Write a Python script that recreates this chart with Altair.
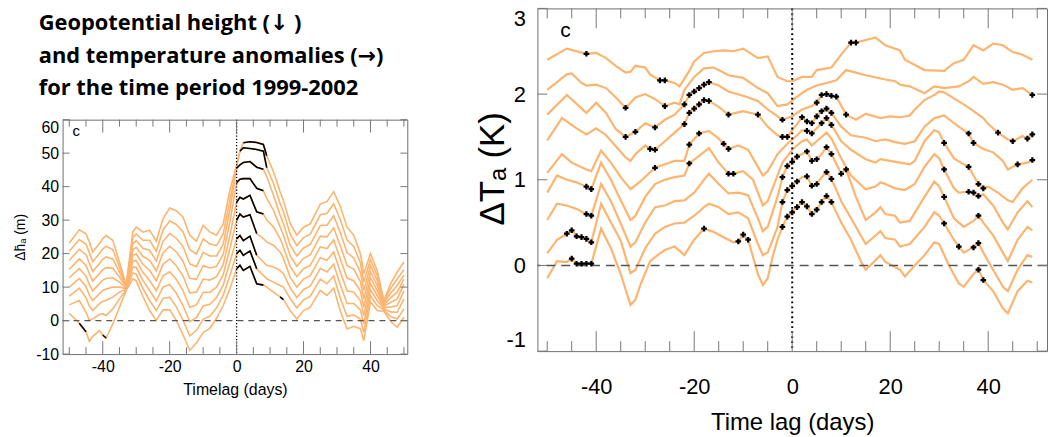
import altair as alt
import pandas as pd

ORANGE = "#FDB46F"
TICK = "#777777"
FONT = "Liberation Sans"

# ---------------- left panel: geopotential height anomaly (m) ----------------
LEFT_DAYS = [-50, -47, -45, -44, -43, -41, -40, -39, -37, -35, -33, -31, -30, -28, -26,
             -24, -22, -20, -18, -16, -14, -12, -10, -8, -6, -4, -2, 0, 1, 2, 4, 6, 8, 9,
             11, 13, 14, 16, 18, 20, 22, 25, 27, 29, 31, 33, 35, 37, 38, 40, 42, 44, 46, 48, 50]
H1 = [23.2, 27.1, 25.9, 23.5, 20.5, 23.0, 24.5, 25.4, 24.0, 17.5, 10.6, 26.5, 27.9, 26.4, 27.0,
      23.7, 30.4, 33.6, 32.8, 30.9, 25.5, 23.7, 28.4, 26.5, 25.5, 28.9, 39.0, 46.5, 50.5, 53.1,
      53.4, 53.2, 52.6, 49.2, 44.5, 38.5, 35.8, 29.0, 25.5, 27.9, 28.9, 34.8, 35.5, 38.5, 34.0,
      27.9, 25.5, 20.0, 14.0, 20.0, 15.0, 6.0, 11.0, 14.5, 17.5]
H2 = [20.7, 24.2, 22.8, 20.3, 17.6, 20.0, 21.4, 22.2, 21.2, 16.0, 10.4, 24.8, 25.9, 24.0, 24.0,
      20.7, 27.0, 29.8, 28.7, 26.5, 21.2, 19.9, 24.4, 22.9, 22.4, 25.9, 36.0, 46.0, 50.6, 51.6,
      51.4, 51.1, 50.6, 45.7, 41.0, 35.0, 32.5, 25.8, 22.4, 24.8, 25.8, 31.6, 32.0, 34.9, 30.1,
      24.1, 22.1, 17.2, 11.5, 18.2, 13.5, 5.6, 9.6, 12.5, 15.2]
H3 = [18.0, 21.3, 19.7, 17.2, 14.7, 17.0, 18.3, 19.0, 18.4, 14.5, 10.2, 23.0, 23.9, 21.6, 21.0,
      17.8, 23.6, 26.0, 24.6, 22.1, 16.9, 16.1, 20.4, 19.3, 19.3, 22.8, 33.0, 45.5, 46.5, 47.2,
      47.5, 45.8, 45.2, 43.0, 37.5, 31.5, 29.0, 22.6, 19.3, 21.7, 22.7, 28.4, 28.5, 31.3, 26.2,
      20.3, 18.7, 14.4, 9.0, 16.4, 12.0, 5.2, 8.2, 10.5, 13.6]
H4 = [15.3, 18.4, 16.5, 14.0, 11.8, 14.0, 15.2, 15.8, 15.6, 13.0, 10.0, 21.2, 21.9, 19.2, 18.0,
      14.8, 20.2, 22.2, 20.5, 17.7, 12.6, 12.3, 16.4, 15.7, 16.2, 19.8, 29.5, 41.2, 42.2, 42.4,
      42.4, 39.5, 38.8, 36.5, 33.0, 28.0, 25.5, 19.4, 16.2, 18.6, 19.6, 25.2, 25.0, 27.7, 22.3,
      16.5, 15.3, 11.6, 6.5, 14.6, 10.5, 4.8, 6.8, 8.5, 12.4]
H5 = [12.8, 15.5, 13.3, 10.8, 8.9, 11.0, 12.1, 12.6, 12.8, 11.5, 9.8, 19.5, 19.9, 16.8, 15.0,
      11.9, 16.8, 18.4, 16.4, 13.3, 8.3, 8.5, 12.4, 12.1, 13.1, 16.7, 25.5, 35.3, 36.8, 36.3,
      37.4, 32.5, 31.8, 30.0, 28.0, 24.5, 22.0, 16.2, 13.1, 15.5, 16.5, 22.0, 21.5, 24.1, 18.4,
      12.7, 11.9, 8.8, 4.0, 12.8, 9.0, 4.4, 5.4, 6.5, 10.9]
H6 = [10.0, 12.6, 10.1, 7.6, 6.0, 8.0, 9.0, 9.4, 10.0, 10.0, 9.6, 17.8, 17.9, 14.4, 12.0,
      8.9, 13.4, 14.6, 12.3, 8.9, 4.0, 4.7, 8.4, 8.5, 10.0, 13.7, 21.5, 29.9, 31.8, 30.9,
      31.6, 26.0, 24.5, 23.5, 22.5, 20.5, 18.5, 13.0, 10.0, 12.4, 13.4, 18.8, 18.0, 20.5, 14.5,
      8.9, 8.5, 6.0, 1.5, 11.0, 7.5, 4.0, 4.0, 4.5, 8.9]
H7 = [7.3, 9.7, 6.8, 4.3, 3.0, 5.0, 5.8, 6.0, 7.0, 8.5, 9.4, 16.0, 15.9, 12.0, 9.0,
      5.9, 10.0, 10.8, 8.2, 4.5, -0.3, 0.9, 4.4, 4.9, 6.9, 10.6, 17.5, 24.4, 25.4, 23.9,
      25.2, 19.5, 17.5, 16.5, 16.0, 15.0, 14.0, 9.8, 6.9, 9.3, 10.3, 15.6, 14.5, 16.9, 10.6,
      5.1, 5.1, 3.2, -1.0, 9.2, 6.0, 3.6, 2.6, 2.5, 6.5]
H8 = [4.7, 6.0, 2.5, 0.0, 0.5, 1.8, 2.0, 1.5, 3.5, 6.5, 9.2, 14.2, 13.9, 9.6, 6.0,
      3.0, 6.6, 7.0, 4.1, 0.1, -4.6, -2.9, 0.4, 1.3, 3.8, 7.6, 13.5, 20.0, 21.0, 19.5,
      20.8, 15.5, 13.5, 12.5, 11.5, 10.5, 10.0, 6.6, 3.8, 6.2, 7.2, 12.4, 11.0, 13.3, 6.7,
      1.3, 1.7, 0.4, -3.5, 7.4, 4.5, 3.2, 1.2, 0.5, 3.5]
H9 = [2.2, -0.8, -3.3, -6.2, -4.7, -3.0, -4.3, -5.2, -1.0, 4.0, 9.0, 12.5, 11.9, 7.2, 3.0,
      0.0, 3.2, 3.2, 0.0, -4.3, -8.9, -6.7, -3.6, -2.3, 0.7, 4.5, 9.5, 15.5, 16.5, 15.0,
      16.2, 11.0, 10.6, 10.0, 8.5, 7.1, 6.3, 3.0, 0.5, 3.0, 4.0, 9.0, 7.5, 9.7, 2.8,
      -2.5, -1.7, -2.4, -6.0, 5.6, 3.0, 2.8, -0.2, -2.0, 1.0]
LEFT_SERIES = [H1, H2, H3, H4, H5, H6, H7, H8, H9]
# day ranges drawn in black (significant parts)
LEFT_BLACK = [[(2, 9)], [(1, 9)], [(0, 8)], [(0, 8)], [(0, 8)], [(0, 6)], [(0, 6)], [(0, 6)],
              [(-47, -45), (-40, -39), (0, 8), (13, 14)]]

# ---------------- right panel: temperature anomaly (K) ----------------
T1 = [(-50, 2.40), (-46, 2.53), (-42, 2.47), (-40, 2.48), (-38, 2.42), (-36, 2.33), (-34, 2.25),
      (-33, 2.26), (-32, 2.33), (-30, 2.31), (-29, 2.23), (-27, 2.16), (-26, 2.16), (-24, 2.13),
      (-23, 2.09), (-21, 2.27), (-20, 2.38), (-18, 2.48), (-16, 2.50), (-14, 2.51), (-12, 2.50),
      (-10, 2.53), (-7, 2.42), (-5, 2.44), (-3, 2.20), (-1, 2.15), (0, 2.15), (2, 2.20), (4, 2.20),
      (5, 2.28), (8, 2.31), (10, 2.46), (12, 2.60), (13, 2.60), (17, 2.66), (19, 2.57), (22, 2.51),
      (23, 2.40), (27, 2.28), (31, 2.27), (33, 2.36), (35, 2.40), (37, 2.57), (39, 2.51), (41, 2.59),
      (43, 2.57), (45, 2.49), (47, 2.46), (49, 2.40)]
T2 = [(-50, 2.05), (-46, 2.23), (-45, 2.24), (-43, 2.13), (-42, 2.10), (-40, 2.11), (-38, 2.07),
      (-36, 1.96), (-34, 1.84), (-33, 1.90), (-32, 1.96), (-30, 2.00), (-28, 1.94), (-26, 1.86),
      (-24, 1.90), (-23, 1.88), (-22, 2.05), (-20, 2.20), (-18, 2.30), (-16, 2.31), (-13, 2.22),
      (-10, 2.19), (-7, 2.07), (-5, 2.01), (-3, 1.86), (-1, 1.88), (1, 1.97), (3, 2.05), (5, 2.10),
      (7, 2.13), (9, 2.16), (11, 2.28), (13, 2.25), (15, 2.22), (19, 2.17), (21, 2.15), (22, 2.11),
      (24, 2.09), (27, 2.01), (29, 2.09), (31, 2.07), (34, 2.09), (36, 2.15), (37, 2.20), (39, 2.12),
      (41, 2.14), (43, 2.11), (45, 2.05), (47, 2.07), (49, 1.99)]
T3 = [(-50, 1.76), (-46, 1.99), (-42, 1.78), (-40, 1.90), (-38, 1.78), (-36, 1.59), (-34, 1.50),
      (-32, 1.56), (-30, 1.66), (-28, 1.61), (-26, 1.70), (-24, 1.76), (-22, 1.88), (-21, 1.99),
      (-20, 2.03), (-19, 2.07), (-18, 2.11), (-17, 2.14), (-15, 2.10), (-13, 2.03), (-10, 1.98),
      (-7, 1.92), (-5, 1.82), (-2, 1.70), (0, 1.74), (2, 1.82), (4, 1.86), (5, 1.90), (6, 1.99),
      (7, 2.00), (8, 1.98), (9, 1.97), (11, 1.76), (13, 1.70), (15, 1.77), (18, 1.72), (20, 1.74),
      (22, 1.73), (24, 1.75), (25, 1.82), (27, 1.93), (29, 1.99), (30, 2.03), (31, 2.02), (33, 1.95),
      (35, 1.88), (37, 1.80), (39, 1.72), (40, 1.65), (42, 1.55), (44, 1.47), (45, 1.45), (47, 1.51),
      (48, 1.48), (49, 1.53)]
T4 = [(-50, 1.46), (-47, 1.72), (-44, 1.60), (-42, 1.53), (-40, 1.60), (-38, 1.52), (-36, 1.39),
      (-34, 1.26), (-33, 1.22), (-32, 1.30), (-30, 1.40), (-29, 1.36), (-28, 1.35), (-26, 1.45),
      (-24, 1.55), (-22, 1.65), (-21, 1.78), (-20, 1.83), (-19, 1.88), (-18, 1.93), (-17, 1.92),
      (-15, 1.85), (-13, 1.76), (-10, 1.80), (-7, 1.76), (-5, 1.62), (-3, 1.52), (-2, 1.50),
      (-1, 1.50), (0, 1.58), (1, 1.65), (2, 1.73), (3, 1.68), (4, 1.66), (5, 1.74), (6, 1.80),
      (7, 1.83), (8, 1.78), (10, 1.62), (12, 1.52), (15, 1.49), (17, 1.45), (19, 1.47), (21, 1.44),
      (23, 1.42), (25, 1.45), (27, 1.62), (29, 1.72), (31, 1.75), (33, 1.66), (35, 1.58), (36, 1.54),
      (37, 1.43), (39, 1.36), (41, 1.32), (43, 1.22), (44, 1.12), (46, 1.18), (48, 1.20), (49, 1.23)]
T5 = [(-50, 1.08), (-47, 1.30), (-45, 1.20), (-42, 1.12), (-41, 1.10), (-39, 1.34), (-37, 1.20),
      (-35, 1.03), (-33, 0.89), (-31, 0.98), (-28, 1.14), (-26, 1.18), (-24, 1.22), (-22, 1.22),
      (-21, 1.41), (-19, 1.54), (-17, 1.57), (-15, 1.48), (-14, 1.42), (-13, 1.36), (-11, 1.40),
      (-9, 1.35), (-7, 1.15), (-6, 1.05), (-5, 1.10), (-3, 1.30), (-1, 1.42), (1, 1.52), (2, 1.58),
      (3, 1.57), (4, 1.54), (5, 1.60), (6, 1.66), (7, 1.72), (8, 1.64), (10, 1.45), (12, 1.35),
      (15, 1.24), (17, 1.20), (18, 1.24), (20, 1.22), (22, 1.20), (24, 1.18), (25, 1.22), (27, 1.45),
      (29, 1.58), (30, 1.55), (31, 1.43), (33, 1.25), (35, 1.18), (36, 1.15), (37, 1.05), (38, 0.95),
      (39, 0.90), (40, 0.92), (42, 0.85), (44, 0.76), (45, 0.74), (47, 0.90), (49, 1.00)]
T6 = [(-50, 0.85), (-48, 1.05), (-46, 1.00), (-44, 0.97), (-42, 0.92), (-41, 0.89), (-39, 1.20),
      (-37, 1.00), (-35, 0.76), (-33, 0.53), (-32, 0.58), (-30, 0.80), (-28, 0.95), (-26, 1.00),
      (-24, 1.03), (-22, 1.05), (-21, 1.19), (-19, 1.28), (-17, 1.37), (-15, 1.20), (-13, 1.07),
      (-12, 1.07), (-10, 1.10), (-8, 1.00), (-6, 0.70), (-5, 0.75), (-3, 1.05), (-2, 1.20), (0, 1.35),
      (2, 1.45), (3, 1.47), (4, 1.40), (5, 1.45), (7, 1.55), (8, 1.48), (10, 1.25), (12, 1.05),
      (15, 0.89), (17, 0.92), (18, 0.97), (19, 0.95), (21, 0.90), (23, 0.88), (25, 0.95), (27, 1.15),
      (29, 1.30), (30, 1.25), (31, 1.12), (33, 0.90), (34, 0.85), (36, 0.86), (37, 0.85), (38, 0.81),
      (39, 0.83), (41, 0.70), (43, 0.50), (44, 0.42), (46, 0.62), (48, 0.75), (49, 0.68)]
T7 = [(-50, 0.53), (-48, 0.72), (-46, 0.70), (-44, 0.66), (-42, 0.60), (-41, 0.58), (-39, 0.95),
      (-37, 0.75), (-35, 0.49), (-33, 0.22), (-32, 0.27), (-30, 0.50), (-28, 0.68), (-26, 0.70),
      (-24, 0.75), (-22, 0.76), (-20, 0.85), (-18, 1.00), (-17, 1.07), (-15, 0.95), (-13, 0.84),
      (-11, 0.85), (-9, 0.82), (-7, 0.55), (-6, 0.40), (-5, 0.45), (-3, 0.80), (-2, 1.03), (-1, 1.16),
      (0, 1.21), (1, 1.27), (2, 1.30), (3, 1.33), (4, 1.22), (5, 1.24), (6, 1.30), (7, 1.38), (8, 1.30),
      (10, 1.07), (11, 1.12), (13, 0.80), (15, 0.53), (17, 0.62), (18, 0.68), (19, 0.60), (21, 0.58),
      (22, 0.50), (24, 0.52), (27, 0.80), (29, 0.98), (30, 0.92), (31, 0.80), (33, 0.55), (35, 0.45),
      (37, 0.52), (38, 0.58), (39, 0.50), (41, 0.35), (43, 0.15), (44, 0.05), (46, 0.30), (48, 0.45),
      (49, 0.41)]
T8 = [(-50, 0.14), (-48, 0.30), (-46, 0.37), (-45, 0.41), (-44, 0.34), (-43, 0.33), (-42, 0.31),
      (-41, 0.27), (-39, 0.72), (-37, 0.50), (-35, 0.29), (-33, -0.09), (-32, -0.05), (-30, 0.20),
      (-28, 0.37), (-26, 0.45), (-24, 0.49), (-22, 0.50), (-20, 0.58), (-18, 0.68), (-17, 0.72),
      (-15, 0.68), (-13, 0.60), (-11, 0.62), (-9, 0.55), (-7, 0.25), (-6, 0.12), (-5, 0.15),
      (-3, 0.45), (-2, 0.74), (-1, 0.88), (0, 0.93), (1, 0.98), (2, 1.03), (3, 1.04), (4, 0.93),
      (5, 0.95), (6, 1.03), (7, 1.09), (8, 1.01), (10, 0.75), (12, 0.55), (14, 0.35), (15, 0.25),
      (17, 0.35), (18, 0.40), (19, 0.32), (21, 0.30), (22, 0.22), (24, 0.25), (27, 0.45), (29, 0.62),
      (30, 0.58), (31, 0.49), (33, 0.30), (34, 0.22), (35, 0.15), (37, 0.21), (38, 0.26), (39, 0.15),
      (41, -0.05), (43, -0.25), (44, -0.30), (46, -0.05), (48, 0.12), (49, 0.10)]
T9 = [(-50, -0.15), (-48, 0.05), (-46, 0.04), (-45, 0.08), (-44, 0.02), (-43, 0.02), (-42, 0.02),
      (-41, 0.02), (-39, 0.43), (-37, 0.20), (-35, -0.10), (-33, -0.46), (-32, -0.40), (-31, -0.23),
      (-29, 0.05), (-27, 0.14), (-26, 0.18), (-24, 0.22), (-22, 0.12), (-20, 0.30), (-18, 0.43),
      (-16, 0.39), (-14, 0.33), (-12, 0.27), (-11, 0.28), (-10, 0.36), (-9, 0.30), (-8, 0.10),
      (-7, -0.10), (-6, -0.23), (-5, -0.15), (-4, 0.10), (-3, 0.30), (-2, 0.45), (-1, 0.57), (0, 0.62),
      (1, 0.68), (2, 0.74), (3, 0.69), (4, 0.60), (5, 0.65), (6, 0.74), (7, 0.81), (8, 0.74),
      (10, 0.50), (12, 0.30), (14, 0.05), (15, -0.05), (17, 0.06), (18, 0.12), (19, 0.04), (21, -0.02),
      (22, -0.05), (23, -0.13), (25, 0.00), (27, 0.12), (29, 0.27), (30, 0.25), (32, 0.00), (34, -0.21),
      (35, -0.25), (37, -0.10), (38, -0.05), (39, -0.17), (41, -0.30), (43, -0.50), (44, -0.56),
      (46, -0.30), (48, -0.18), (49, -0.20)]
RIGHT_SERIES = [T1, T2, T3, T4, T5, T6, T7, T8, T9]
# days marked with black symbols on each curve
RIGHT_MARKS = [
    [-42, -27, -26, 12, 13],
    [-34, -26, 49],
    [-34, -32, -28, -22, -21, -20, -19, -18, -17, -2, 5, 6, 7, 8, 9, 11, 42, 45, 48, 49],
    [-29, -28, -22, -21, -20, -19, -18, -17, -13, -7, -2, -1, 2, 3, 4, 5, 6, 7, 8, 36, 37, 46, 49],
    [-28, -21, -19, -14, -13, 3, 4, 6, 7, 8, 31, 36, 38, 39],
    [-42, -41, -21, -13, -12, 31, 36, 37, 38],
    [-42, -41, -2, -1, 0, 1, 3, 4, 5, 7, 8, 10, 11, 31, 38],
    [-46, -45, -44, -43, -42, -41, -2, -1, 0, 1, 3, 4, 5, 7, 8, 31, 34, 37, 38],
    [-45, -44, -43, -42, -41, -18, -11, -10, -9, -2, -1, 0, 1, 2, 3, 4, 5, 6, 7, 8, 38, 39],
]

X_MAJOR = [-40, -20, 0, 20, 40]
X_MINOR = [-50, -45, -35, -30, -25, -15, -10, -5, 5, 10, 15, 25, 30, 35, 45, 50]
LEFT_Y_TICKS = [-10, 0, 10, 20, 30, 40, 50, 60]
RIGHT_Y_TICKS = [-1, 0, 1, 2, 3]

TITLE_LINES = ["Geopotential height (\u2193 )", "and temperature anomalies (\u2192)",
               "for the time period 1999-2002"]

# ---------------- build tables ----------------
left_rows, left_black_rows = [], []
for i, vals in enumerate(LEFT_SERIES):
    for d, v in zip(LEFT_DAYS, vals):
        left_rows.append({"series": f"H{i+1}", "day": d, "val": v})
    for j, (lo, hi) in enumerate(LEFT_BLACK[i]):
        for d, v in zip(LEFT_DAYS, vals):
            if lo <= d <= hi:
                left_black_rows.append({"seg": f"H{i+1}_{j}", "day": d, "val": v})
left_df = pd.DataFrame(left_rows)
left_black_df = pd.DataFrame(left_black_rows)

right_rows, mark_rows = [], []
for i, pts in enumerate(RIGHT_SERIES):
    lookup = dict(pts)
    for d, v in pts:
        right_rows.append({"series": f"T{i+1}", "day": d, "val": v})
    for d in RIGHT_MARKS[i]:
        if d in lookup:
            mark_rows.append({"series": f"T{i+1}", "day": d, "val": lookup[d]})
right_df = pd.DataFrame(right_rows)
mark_df = pd.DataFrame(mark_rows)


def frame_ticks(X, Y, W, H, xmaj_len, xmin_len, y_len, yvals):
    layers = []
    for vals, ln in ((X_MAJOR, xmaj_len), (X_MINOR, xmin_len)):
        df = pd.DataFrame({"day": vals})
        base = alt.Chart(df).mark_rule(color=TICK, strokeWidth=1)
        layers.append(base.encode(x=X, y=alt.value(0), y2=alt.value(ln)))
        layers.append(base.encode(x=X, y=alt.value(H), y2=alt.value(H - ln)))
    dfy = pd.DataFrame({"val": yvals})
    basey = alt.Chart(dfy).mark_rule(color=TICK, strokeWidth=1)
    layers.append(basey.encode(y=Y, x=alt.value(0), x2=alt.value(y_len)))
    layers.append(basey.encode(y=Y, x=alt.value(W), x2=alt.value(W - y_len)))
    return layers


PLAIN = "toString(datum.value)"

# ---------------- left chart ----------------
LW, LH = 347, 236
LX = alt.X("day:Q", scale=alt.Scale(domain=[-52, 51], nice=False, zero=False),
           axis=alt.Axis(values=X_MAJOR, title="Timelag (days)", labelFontSize=16,
                         titleFontSize=16, labelPadding=5, titlePadding=7, labelExpr=PLAIN))
LY = alt.Y("val:Q", scale=alt.Scale(domain=[-10, 60], nice=False, zero=False),
           axis=alt.Axis(values=LEFT_Y_TICKS, title="\u0394h\u0304\u2090 (m)", labelFontSize=16,
                         titleFontSize=14, labelPadding=4, titlePadding=8, labelExpr=PLAIN,
                         labelBaseline={"condition": {"test": "datum.value >= 60", "value": "top"},
                                        "value": "middle"}))

zero_val = pd.DataFrame({"val": [0]})
zero_day = pd.DataFrame({"day": [0]})
lab_df = pd.DataFrame({"t": ["c"]})

l_lines = alt.Chart(left_df).mark_line(color=ORANGE, strokeWidth=1.6).encode(
    x=LX, y=LY, detail="series:N")
l_black = alt.Chart(left_black_df).mark_line(color="black", strokeWidth=1.6).encode(
    x=LX, y=LY, detail="seg:N")
l_zero = alt.Chart(zero_val).mark_rule(color="#555555", strokeDash=[6, 5], strokeWidth=1.2).encode(y=LY)
l_vert = alt.Chart(zero_day).mark_rule(color="black", strokeDash=[1.2, 2], strokeWidth=1.3).encode(x=LX)
l_lab = alt.Chart(lab_df).mark_text(align="left", baseline="middle", fontSize=15,
                                    font=FONT).encode(x=alt.value(10), y=alt.value(11), text="t:N")

left_plot = alt.layer(
    l_lines, l_black, l_zero, l_vert,
    *frame_ticks(LX, LY, LW, LH, 13, 7, 7, LEFT_Y_TICKS), l_lab
).properties(width=LW, height=LH)

title_chart = alt.Chart(pd.DataFrame({"t": [0]})).mark_text(
    align="left", baseline="alphabetic", font="Open Sans, DejaVu Sans", fontSize=22,
    fontWeight="bold", color="black", lineHeight=32.5
).encode(x=alt.value(-24), y=alt.value(22), text=alt.value(TITLE_LINES)).properties(
    width=LW, height=100, view=alt.ViewBackground(stroke="transparent"))

left_col = alt.vconcat(title_chart, left_plot, spacing=9)

# ---------------- right chart ----------------
RW, RH = 513, 345
RX = alt.X("day:Q", scale=alt.Scale(domain=[-52, 52], nice=False, zero=False),
           axis=alt.Axis(values=X_MAJOR, title="Time lag (days)", labelFontSize=22,
                         titleFontSize=24, labelPadding=26, titlePadding=13, labelExpr=PLAIN))
RY = alt.Y("val:Q", scale=alt.Scale(domain=[-1, 3], nice=False, zero=False),
           axis=alt.Axis(values=RIGHT_Y_TICKS, title="\u0394T\u2090 (K)", labelFontSize=22,
                         labelFlush=True, labelPadding=12, titleFontSize=35,
                         titleX=-27, titleY=161, labelExpr=PLAIN))

r_lines = alt.Chart(right_df).mark_line(color=ORANGE, strokeWidth=2.2).encode(
    x=RX, y=RY, detail="series:N")
r_marks = alt.Chart(mark_df).mark_point(shape="cross", filled=True, size=32, color="black",
                                        opacity=1).encode(x=RX, y=RY)
r_zero = alt.Chart(zero_val).mark_rule(color="#555555", strokeDash=[9, 6], strokeWidth=1.6).encode(y=RY)
r_vert = alt.Chart(zero_day).mark_rule(color="black", strokeDash=[1.8, 3.2], strokeWidth=2).encode(x=RX)
r_lab = alt.Chart(lab_df).mark_text(align="left", baseline="middle", fontSize=21,
                                    font=FONT).encode(x=alt.value(23), y=alt.value(23), text="t:N")

right = alt.layer(
    r_lines, r_zero, r_vert, r_marks,
    *frame_ticks(RX, RY, RW, RH, 20, 10, 10, RIGHT_Y_TICKS), r_lab
).properties(width=RW, height=RH)

chart = alt.hconcat(left_col, right, spacing=66).properties(
    padding={"left": 13, "top": 5, "right": 0, "bottom": 0}
).configure_view(stroke="#707070", strokeWidth=1).configure_axis(
    domain=False, ticks=False, grid=False, labelFont=FONT, titleFont=FONT,
    labelColor="black", titleColor="black", titleFontWeight="normal")

chart.save("out.html", embed_options={"renderer": "svg", "actions": False})
